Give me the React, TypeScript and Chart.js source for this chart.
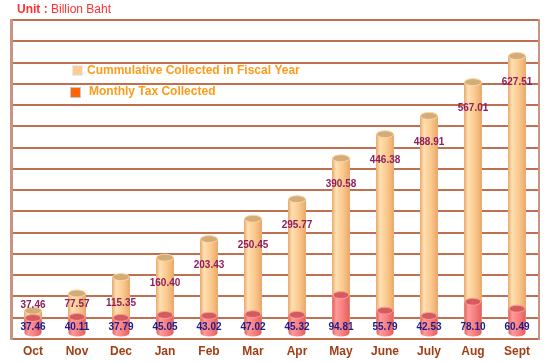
import React, { useEffect, useRef } from 'react';
import { Chart, registerables } from 'chart.js';

Chart.register(...registerables);

const months = ['Oct', 'Nov', 'Dec', 'Jan', 'Feb', 'Mar', 'Apr', 'May', 'June', 'July', 'Aug', 'Sept'];
const cumulative = [37.46, 77.57, 115.35, 160.4, 203.43, 250.45, 295.77, 390.58, 446.38, 488.91, 567.01, 627.51];
const monthly = [37.46, 40.11, 37.79, 45.05, 43.02, 47.02, 45.32, 94.81, 55.79, 42.53, 78.1, 60.49];
const seriesNames = ['Cummulative Collected in Fiscal Year', 'Monthly Tax Collected'];
const unitLabel = ['Unit :', 'Billion Baht'];

const FONT = '"Liberation Sans", Arial, sans-serif';

function drawCylinder(ctx: CanvasRenderingContext2D, el: any, c: { light: string; mid: string; dark: string; top: string; rim: string }) {
  const { x, y, base, width } = el.getProps(['x', 'y', 'base', 'width'], true);
  const rx = width / 2;
  const ry = 3.5;
  const l = x - rx;
  const r = x + rx;
  const g = ctx.createLinearGradient(l, 0, r, 0);
  g.addColorStop(0, c.dark);
  g.addColorStop(0.22, c.light);
  g.addColorStop(0.6, c.mid);
  g.addColorStop(1, c.dark);
  ctx.save();
  ctx.fillStyle = g;
  ctx.beginPath();
  ctx.moveTo(l, y);
  ctx.lineTo(l, base);
  ctx.ellipse(x, base, rx, ry, 0, Math.PI, 0, true);
  ctx.lineTo(r, y);
  ctx.closePath();
  ctx.fill();
  ctx.beginPath();
  ctx.ellipse(x, y, rx - 0.5, ry, 0, 0, Math.PI * 2);
  ctx.fillStyle = c.top;
  ctx.fill();
  ctx.strokeStyle = c.rim;
  ctx.lineWidth = 1;
  ctx.stroke();
  ctx.restore();
  return { x, y, base };
}

const cylinderPlugin = {
  id: 'cylinders',
  afterDatasetsDraw(chart: any) {
    const ctx: CanvasRenderingContext2D = chart.ctx;
    const tanMeta = chart.getDatasetMeta(0);
    const redMeta = chart.getDatasetMeta(1);
    const tanTops: number[] = [];
    const redTops: number[] = [];
    const redBases: number[] = [];
    const xs: number[] = [];
    tanMeta.data.forEach((el: any) => {
      const p = drawCylinder(ctx, el, { light: '#FFE0B2', mid: '#FCC98E', dark: '#E8A86C', top: '#D4AC78', rim: '#F8D8A4' });
      tanTops.push(p.y);
      xs.push(p.x);
    });
    redMeta.data.forEach((el: any) => {
      const p = drawCylinder(ctx, el, { light: '#FF9A9A', mid: '#F97F7F', dark: '#E06060', top: '#D45C5C', rim: '#FF9C9C' });
      redTops.push(p.y);
      redBases.push(p.base);
    });
    ctx.save();
    ctx.font = `bold 10px ${FONT}`;
    ctx.textAlign = 'center';
    ctx.textBaseline = 'middle';
    cumulative.forEach((v, i) => {
      const ly = Math.min(tanTops[i] + 26, redTops[i] - 13);
      ctx.fillStyle = '#8E1F5C';
      ctx.fillText(v.toFixed(2), xs[i], ly);
    });
    monthly.forEach((v, i) => {
      ctx.fillStyle = '#1C1C8E';
      ctx.fillText(v.toFixed(2), xs[i], redBases[i] - 6);
    });
    ctx.restore();
  },
  afterDraw(chart: any) {
    const ctx: CanvasRenderingContext2D = chart.ctx;
    ctx.save();
    ctx.textBaseline = 'middle';
    ctx.textAlign = 'left';
    // Unit title
    ctx.fillStyle = '#FF3030';
    ctx.font = `bold 12px ${FONT}`;
    ctx.fillText(unitLabel[0], 17, 10);
    const w = ctx.measureText(unitLabel[0] + ' ').width;
    ctx.font = `12px ${FONT}`;
    ctx.fillText(unitLabel[1], 17 + w, 10);
    // Legend
    const ds = chart.data.datasets;
    const items = [
      { sx: 72, sy: 65, tx: 87, ty: 71, fill: ds[0].legendColor, border: '#E4F0EC' },
      { sx: 70, sy: 87, tx: 89, ty: 92, fill: ds[1].legendColor, border: '#C0C8E0' },
    ];
    items.forEach((it, i) => {
      ctx.fillStyle = it.fill;
      ctx.fillRect(it.sx, it.sy, 10, 10);
      ctx.strokeStyle = it.border;
      ctx.lineWidth = 1;
      ctx.strokeRect(it.sx + 0.5, it.sy + 0.5, 10, 10);
      ctx.fillStyle = '#FF9A1A';
      ctx.font = `bold 12px ${FONT}`;
      ctx.fillText(ds[i].label, it.tx, it.ty);
    });
    ctx.restore();
  },
};

export default function App() {
  const ref = useRef<HTMLCanvasElement | null>(null);
  useEffect(() => {
    document.body.style.margin = '0';
    if (!ref.current) return;
    const chart = new Chart(ref.current, {
      type: 'bar',
      data: {
        labels: months,
        datasets: [
          {
            label: seriesNames[0],
            data: cumulative,
            yAxisID: 'yTan',
            grouped: false,
            barThickness: 18,
            backgroundColor: 'rgba(0,0,0,0)',
            legendColor: '#FFCC99',
            order: 2,
          } as any,
          {
            label: seriesNames[1],
            data: monthly,
            yAxisID: 'yRed',
            grouped: false,
            barThickness: 17,
            backgroundColor: 'rgba(0,0,0,0)',
            legendColor: '#FF6600',
            order: 1,
          } as any,
        ],
      },
      options: {
        responsive: false,
        animation: false,
        devicePixelRatio: 1,
        layout: { padding: { left: 11, right: 11, top: 20, bottom: 0 } },
        plugins: { legend: { display: false }, tooltip: { enabled: false }, title: { display: false } },
        scales: {
          x: {
            type: 'category',
            grid: { display: false, drawTicks: false },
            border: { display: false },
            ticks: {
              color: '#A33E14',
              font: { family: FONT, size: 12, weight: 'bold' },
              padding: 5,
              maxRotation: 0,
              autoSkip: false,
            },
            afterFit(s: any) {
              s.height = 23;
            },
          },
          yGrid: {
            position: 'left',
            min: 0,
            max: 15,
            ticks: { display: false, stepSize: 1 },
            grid: { color: '#BF7050', lineWidth: 2, drawTicks: false },
            border: { display: true, color: '#C89484', width: 3 },
            afterFit(s: any) {
              s.width = 0;
            },
          },
          yRight: {
            position: 'right',
            min: 0,
            max: 15,
            ticks: { display: false },
            grid: { display: false, drawTicks: false },
            border: { display: true, color: '#C89484', width: 2 },
            afterFit(s: any) {
              s.width = 0;
            },
          },
          yTan: { display: false, min: -28, max: 711 },
          yRed: { display: false, min: -15, max: 782 },
        },
      } as any,
      plugins: [cylinderPlugin],
    });
    return () => chart.destroy();
  }, []);
  return <canvas ref={ref} width={550} height={362} style={{ display: 'block' }} />;
}
